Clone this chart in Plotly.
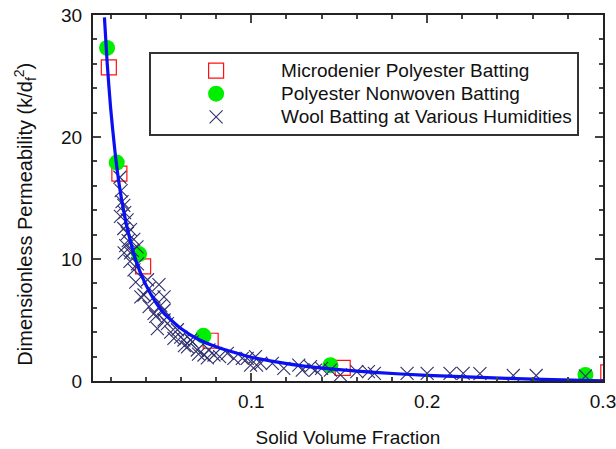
import plotly.graph_objects as go

# Microdenier Polyester Batting (open red squares)
micro_x = [0.019, 0.025, 0.0385, 0.0769, 0.152, 0.303]
micro_y = [25.7, 17.0, 9.4, 3.3, 1.07, 0.7]

# Polyester Nonwoven Batting (green circles)
nonwoven_x = [0.018, 0.0235, 0.0362, 0.0728, 0.145, 0.290]
nonwoven_y = [27.3, 17.9, 10.4, 3.7, 1.3, 0.5]

# Wool Batting at Various Humidities (crosses)
wool_x = [0.0253, 0.0260, 0.0265, 0.0275, 0.0256, 0.0280, 0.0294, 0.0275, 0.0296, 0.0313,
          0.0286, 0.0332, 0.0300, 0.0350, 0.0277, 0.0313, 0.0324, 0.0353, 0.0333, 0.0310,
          0.0343, 0.0410, 0.0419, 0.0475, 0.0390, 0.0447, 0.0504, 0.0419, 0.0485, 0.0447,
          0.0504, 0.0457, 0.0523, 0.0466, 0.0542, 0.0580, 0.0560, 0.0617, 0.0637, 0.0665,
          0.0693, 0.0731, 0.0759, 0.0788, 0.0864, 0.0901, 0.0949, 0.0996, 0.1030, 0.0977,
          0.1024, 0.1053, 0.1120, 0.1185, 0.1270, 0.1290, 0.1337, 0.1365, 0.1400, 0.1450,
          0.1507, 0.1600, 0.1666, 0.1700, 0.1886, 0.2000, 0.2130, 0.2205, 0.2300, 0.2490,
          0.2620, 0.2900, 0.0372, 0.0504, 0.0599, 0.0655, 0.0700, 0.0750, 0.0820, 0.0620]
wool_y = [16.7, 15.6, 14.7, 14.4, 13.5, 13.8, 13.2, 12.5, 12.1, 12.4,
          11.1, 11.6, 11.5, 11.0, 10.5, 10.5, 10.7, 9.6, 9.1, 9.8,
          8.1, 8.3, 7.6, 7.9, 7.05, 6.9, 6.9, 6.1, 6.2, 5.55,
          5.8, 5.3, 4.7, 4.3, 4.0, 4.2, 3.5, 3.36, 2.8, 3.2,
          2.54, 2.13, 2.54, 2.13, 2.27, 1.86, 1.86, 1.31, 1.31, 1.86,
          2.0, 1.45, 1.45, 1.04, 1.31, 0.9, 1.17, 0.9, 1.04, 0.9,
          0.5, 0.76, 0.76, 0.63, 0.63, 0.63, 0.63, 0.63, 0.6, 0.45,
          0.45, 0.4, 6.9, 5.0, 3.6, 3.36, 2.2, 1.9, 2.0, 2.9]

# Fitted curve (blue line)
fit_x = [0.0165, 0.018, 0.020, 0.0225, 0.025, 0.0275, 0.030, 0.035, 0.040, 0.045,
         0.050, 0.060, 0.070, 0.080, 0.090, 0.100, 0.115, 0.130, 0.150, 0.170,
         0.200, 0.230, 0.260, 0.300]
fit_y = [29.8, 26.2, 22.4, 18.8, 16.0, 13.9, 12.2, 9.6, 7.9, 6.6,
         5.6, 4.3, 3.4, 2.8, 2.35, 1.95, 1.55, 1.22, 0.93, 0.70,
         0.46, 0.29, 0.15, 0.02]

FONT = "Liberation Sans, Arial, sans-serif"
TXT = "#111111"


def big(name):
    return '<span style="font-size:19px">' + name + '</span>'


fig = go.Figure()
fig.add_trace(go.Scatter(
    x=micro_x, y=micro_y, mode="markers", name=big("Microdenier Polyester Batting"),
    marker=dict(symbol="square-open", size=15, color="#ff1010", line=dict(width=1.2, color="#ff1010"))))
fig.add_trace(go.Scatter(
    x=nonwoven_x, y=nonwoven_y, mode="markers", name=big("Polyester Nonwoven Batting"),
    marker=dict(symbol="circle", size=16, color="#00ee00", line=dict(width=0))))
fig.add_trace(go.Scatter(
    x=wool_x, y=wool_y, mode="markers", name=big("Wool Batting at Various Humidities"),
    marker=dict(symbol="x-thin", size=13, color="#30306e", line=dict(width=1.1, color="#30306e"))))
fig.add_trace(go.Scatter(
    x=fit_x, y=fit_y, mode="lines", showlegend=False,
    line=dict(color="#0a10f0", width=3.2, shape="spline", smoothing=0.6)))

axis_common = dict(
    showline=True, linecolor="#222222", linewidth=2, mirror="allticks",
    ticks="inside", ticklen=8, tickwidth=1.5, tickcolor="#444444",
    showgrid=False, zeroline=False, automargin=False,
    ticklabeloverflow="allow",
    tickfont=dict(family=FONT, size=19, color=TXT),
)

fig.update_layout(
    width=616, height=449,
    margin=dict(l=93, r=13, t=15, b=68),
    paper_bgcolor="white", plot_bgcolor="white",
    font=dict(family=FONT, size=19, color=TXT),
    xaxis=dict(range=[0.01, 0.3], tick0=0, dtick=0.1, tickformat=".1f",
               minor=dict(dtick=0.02, tick0=0, ticks="inside", ticklen=4, tickcolor="#444444"),
               title=dict(text="Solid Volume Fraction", standoff=20,
                          font=dict(family=FONT, size=19, color=TXT)),
               ticklabelstandoff=2,
               **axis_common),
    yaxis=dict(range=[0, 30], tick0=0, dtick=10,
               minor=dict(dtick=2, tick0=0, ticks="inside", ticklen=4, tickcolor="#444444"),
               ticklabelstandoff=5,
               **axis_common),
    legend=dict(x=0.11, y=0.899, xanchor="left", yanchor="top",
                bgcolor="white", bordercolor="#333333", borderwidth=2,
                itemwidth=120, font=dict(family=FONT, size=15.5, color=TXT),
                tracegroupgap=0),
    showlegend=True,
    annotations=[dict(
        text="Dimensionless Permeability (k/d<sub>f</sub><sup>2</sup>)",
        xref="paper", yref="paper", x=-0.133, y=0.455,
        xanchor="center", yanchor="middle", textangle=-90, showarrow=False,
        font=dict(family=FONT, size=20, color=TXT))],
)

fig.write_html(
    "out.html",
    config={"displayModeBar": False},
    post_script="document.body.style.margin='0';document.body.style.padding='0';document.body.style.overflow='hidden';",
)
